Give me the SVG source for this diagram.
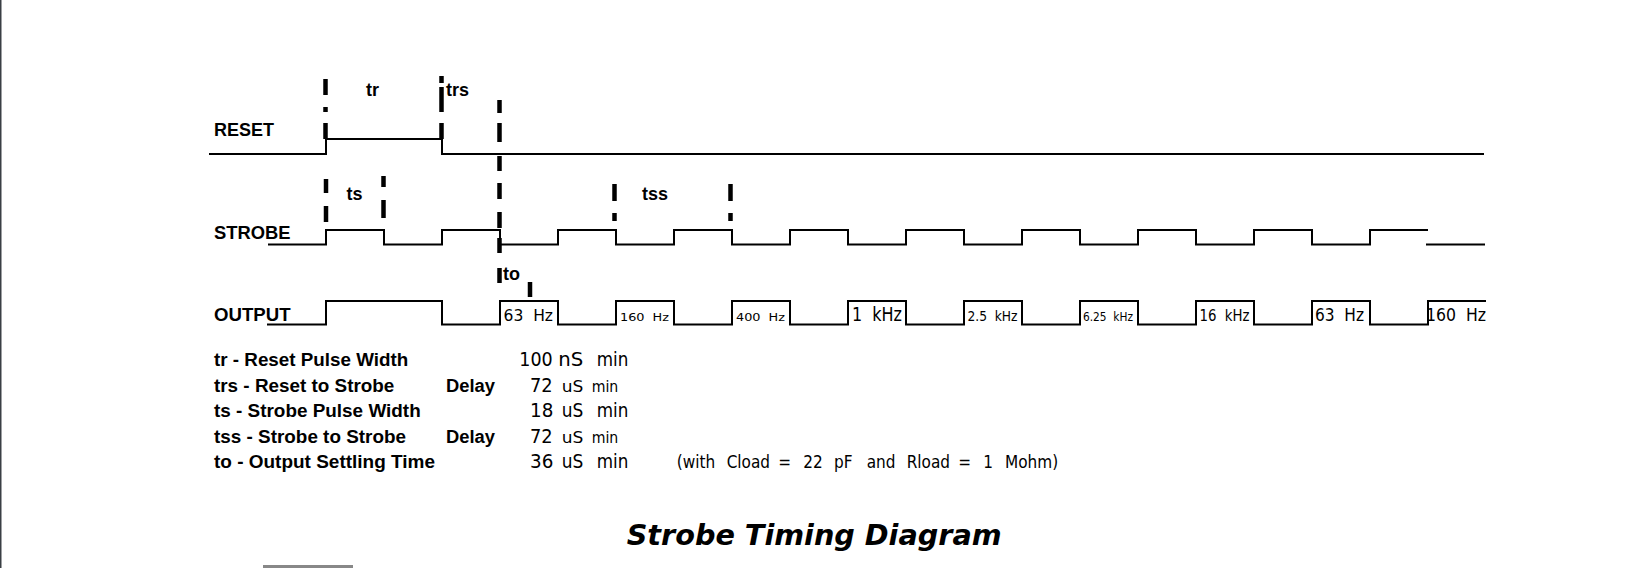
<svg xmlns="http://www.w3.org/2000/svg" width="1630" height="568" viewBox="0 0 1630 568">
<style>
.wave{fill:none;stroke:#000;stroke-width:2;stroke-linejoin:miter}
.mk{stroke:#000;stroke-width:4.5}
.sig{font-family:"Liberation Sans",Arial,sans-serif;font-weight:bold;font-size:18px;fill:#000}
.val{font-family:"DejaVu Sans Condensed","DejaVu Sans",sans-serif;font-size:19.5px;fill:#000}
.sm{font-family:"DejaVu Sans Condensed","DejaVu Sans",sans-serif;font-size:15px;fill:#000}
.hz{font-family:"DejaVu Sans Condensed","DejaVu Sans",sans-serif;fill:#000}
.title{font-family:"DejaVu Sans",Verdana,sans-serif;font-weight:bold;font-style:italic;font-size:28px;fill:#000}
</style>
<rect x="0" y="0" width="1630" height="568" fill="#fff"/>
<line x1="0.75" y1="0" x2="0.75" y2="568" stroke="#3a3f44" stroke-width="1.5"/>
<rect x="263" y="565" width="90" height="3" fill="#888"/>

<g id="signal-labels">
<text class="sig" x="214" y="136" textLength="60" lengthAdjust="spacingAndGlyphs">RESET</text>
<text class="sig" x="214" y="239" textLength="76.5" lengthAdjust="spacingAndGlyphs">STROBE</text>
<text class="sig" x="214" y="320.5" textLength="76.5" lengthAdjust="spacingAndGlyphs">OUTPUT</text>
</g>

<g id="connectors">
<g id="reset-wave">
<polyline class="wave" points="209,154 326,154 326,139 442,139 442,154 1484,154"/>
</g>
<g id="strobe-wave">
<polyline class="wave" points="268,244.5 326,244.5 326,230 384,230 384,244.5 442,244.5 442,230 500,230 500,244.5 558,244.5 558,230 616,230 616,244.5 674,244.5 674,230 732,230 732,244.5 790,244.5 790,230 848,230 848,244.5 906,244.5 906,230 964,230 964,244.5 1022,244.5 1022,230 1080,230 1080,244.5 1138,244.5 1138,230 1196,230 1196,244.5 1254,244.5 1254,230 1312,230 1312,244.5 1370,244.5 1370,230 1428,230"/>
<line class="wave" x1="1426" y1="244.5" x2="1485" y2="244.5"/>
</g>
<g id="output-wave">
<polyline class="wave" points="267,324.5 326,324.5 326,301 442,301 442,324.5 500,324.5 500,301 558,301 558,324.5 616,324.5 616,301 674,301 674,324.5 732,324.5 732,301 790,301 790,324.5 848,324.5 848,301 906,301 906,324.5 964,324.5 964,301 1022,301 1022,324.5 1080,324.5 1080,301 1138,301 1138,324.5 1196,324.5 1196,301 1254,301 1254,324.5 1312,324.5 1312,301 1370,301 1370,324.5 1428,324.5 1428,301 1486,301"/>
</g>
<g id="markers">
<line class="mk" x1="325.5" y1="79" x2="325.5" y2="95"/>
<line class="mk" x1="325.5" y1="107" x2="325.5" y2="112"/>
<line class="mk" x1="325.5" y1="123" x2="325.5" y2="139"/>
<line class="mk" x1="326" y1="179" x2="326" y2="193"/>
<line class="mk" x1="326" y1="206" x2="326" y2="222"/>
<line class="mk" x1="383.5" y1="176" x2="383.5" y2="187"/>
<line class="mk" x1="383.5" y1="200" x2="383.5" y2="218"/>
<line class="mk" x1="441.5" y1="76" x2="441.5" y2="83"/>
<line class="mk" x1="441.5" y1="87" x2="441.5" y2="112"/>
<line class="mk" x1="441.5" y1="123" x2="441.5" y2="139"/>
<line class="mk" x1="499.5" y1="100" x2="499.5" y2="113"/>
<line class="mk" x1="499.5" y1="123" x2="499.5" y2="142"/>
<line class="mk" x1="499.5" y1="156" x2="499.5" y2="171"/>
<line class="mk" x1="499.5" y1="183" x2="499.5" y2="199"/>
<line class="mk" x1="499.5" y1="212" x2="499.5" y2="228"/>
<line class="mk" x1="499.5" y1="238" x2="499.5" y2="253"/>
<line class="mk" x1="499.5" y1="268" x2="499.5" y2="283"/>
<line class="mk" x1="530" y1="282" x2="530" y2="297"/>
<line class="mk" x1="614.5" y1="184" x2="614.5" y2="201"/>
<line class="mk" x1="614.5" y1="213" x2="614.5" y2="221"/>
<line class="mk" x1="730.5" y1="184" x2="730.5" y2="201"/>
<line class="mk" x1="730.5" y1="213" x2="730.5" y2="221"/>
</g>
</g>

<g id="timing-labels">
<text class="sig" x="366" y="96">tr</text>
<text class="sig" x="446" y="96">trs</text>
<text class="sig" x="346.5" y="199.5">ts</text>
<text class="sig" x="642" y="200">tss</text>
<text class="sig" x="503" y="280">to</text>
</g>

<g id="frequency-labels">
<text class="hz" x="503.5" y="320.7" font-size="15.5" textLength="49.5" lengthAdjust="spacingAndGlyphs" xml:space="preserve">63  Hz</text>
<text class="hz" x="620" y="320.5" font-size="11" textLength="49" lengthAdjust="spacingAndGlyphs" xml:space="preserve">160  Hz</text>
<text class="hz" x="736" y="320.5" font-size="11" textLength="49" lengthAdjust="spacingAndGlyphs" xml:space="preserve">400  Hz</text>
<text class="hz" x="852" y="321" font-size="19.5" textLength="50" lengthAdjust="spacingAndGlyphs" xml:space="preserve">1  kHz</text>
<text class="hz" x="967.5" y="321" font-size="13.5" textLength="50" lengthAdjust="spacingAndGlyphs" xml:space="preserve">2.5  kHz</text>
<text class="hz" x="1083" y="321" font-size="12" textLength="50" lengthAdjust="spacingAndGlyphs" xml:space="preserve">6.25  kHz</text>
<text class="hz" x="1199.5" y="321" font-size="16" textLength="50" lengthAdjust="spacingAndGlyphs" xml:space="preserve">16  kHz</text>
<text class="hz" x="1315" y="321" font-size="17.5" textLength="49" lengthAdjust="spacingAndGlyphs" xml:space="preserve">63  Hz</text>
<text class="hz" x="1426" y="321" font-size="18" textLength="60" lengthAdjust="spacingAndGlyphs" xml:space="preserve">160  Hz</text>
</g>

<g id="legend">
<text class="sig" x="214" y="366" textLength="194.3" lengthAdjust="spacingAndGlyphs">tr - Reset Pulse Width</text>
<text class="sig" x="214" y="391.7" textLength="180.3" lengthAdjust="spacingAndGlyphs">trs - Reset to Strobe</text>
<text class="sig" x="446" y="391.7" textLength="49" lengthAdjust="spacingAndGlyphs">Delay</text>
<text class="sig" x="214" y="416.7" textLength="206.7" lengthAdjust="spacingAndGlyphs">ts - Strobe Pulse Width</text>
<text class="sig" x="214" y="442.7" textLength="192" lengthAdjust="spacingAndGlyphs">tss - Strobe to Strobe</text>
<text class="sig" x="446" y="442.7" textLength="49" lengthAdjust="spacingAndGlyphs">Delay</text>
<text class="sig" x="214" y="468.3" textLength="221" lengthAdjust="spacingAndGlyphs">to - Output Settling Time</text>

<text class="val" x="519.3" y="366" textLength="33.4" lengthAdjust="spacingAndGlyphs">100</text>
<text class="val" x="558.3" y="366" textLength="25" lengthAdjust="spacingAndGlyphs">nS</text>
<text class="val" x="596.7" y="366" textLength="31.6" lengthAdjust="spacingAndGlyphs">min</text>

<text class="val" x="530" y="391.7" textLength="22.7" lengthAdjust="spacingAndGlyphs">72</text>
<text class="sm" x="561.7" y="391.7" textLength="21.6" lengthAdjust="spacingAndGlyphs">uS</text>
<text class="sm" x="591.7" y="391.7" textLength="26.6" lengthAdjust="spacingAndGlyphs">min</text>

<text class="val" x="530" y="416.7" textLength="23.3" lengthAdjust="spacingAndGlyphs">18</text>
<text class="val" x="561.7" y="416.7" textLength="21.6" lengthAdjust="spacingAndGlyphs">uS</text>
<text class="val" x="596.7" y="416.7" textLength="31.6" lengthAdjust="spacingAndGlyphs">min</text>

<text class="val" x="530" y="442.7" textLength="22.7" lengthAdjust="spacingAndGlyphs">72</text>
<text class="sm" x="561.7" y="442.7" textLength="21.6" lengthAdjust="spacingAndGlyphs">uS</text>
<text class="sm" x="591.7" y="442.7" textLength="26.6" lengthAdjust="spacingAndGlyphs">min</text>

<text class="val" x="530" y="468.3" textLength="23.3" lengthAdjust="spacingAndGlyphs">36</text>
<text class="val" x="561.7" y="468.3" textLength="21.6" lengthAdjust="spacingAndGlyphs">uS</text>
<text class="val" x="596.7" y="468.3" textLength="31.6" lengthAdjust="spacingAndGlyphs">min</text>

<text class="hz" font-size="17" y="467.7"><tspan x="676.7">(with</tspan><tspan x="726.7">Cload</tspan><tspan x="778.3">=</tspan><tspan x="803.3">22</tspan><tspan x="834">pF</tspan><tspan x="866.7">and</tspan><tspan x="906.7">Rload</tspan><tspan x="958.3">=</tspan><tspan x="983.3">1</tspan><tspan x="1005">Mohm)</tspan></text>
</g>

<g id="title">
<text class="title" x="626.7" y="545" textLength="375" lengthAdjust="spacingAndGlyphs">Strobe Timing Diagram</text>
</g>
</svg>
